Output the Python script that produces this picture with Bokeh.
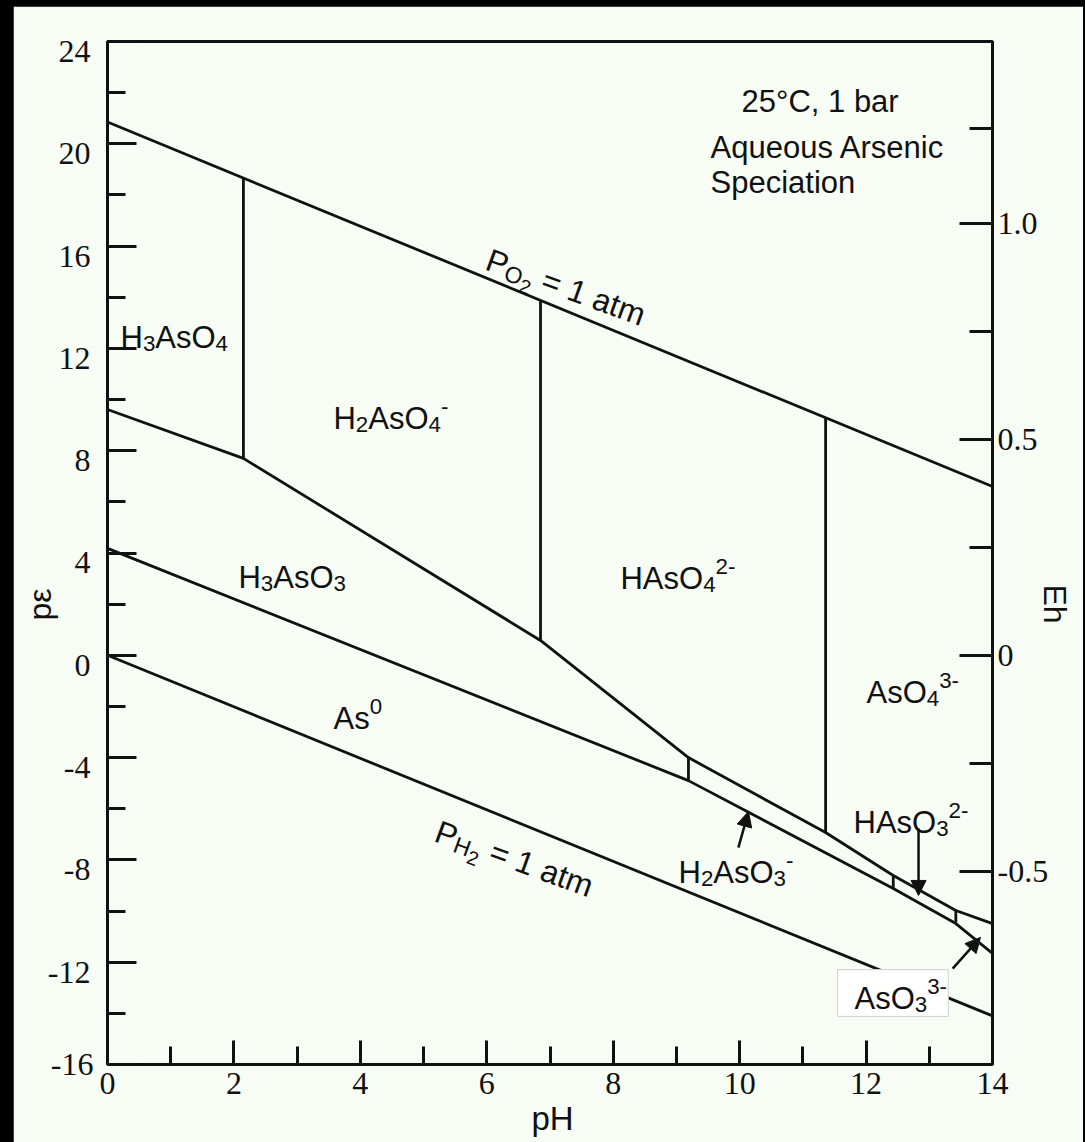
import numpy as np
from bokeh.plotting import figure
from bokeh.layouts import column
from bokeh.models import (Range1d, LinearAxis, FixedTicker, ColumnDataSource,
                          Title, Arrow, NormalHead)
from bokeh.core.properties import value, field
from bokeh.embed import file_html
from bokeh.resources import INLINE

# ---------------- stability-field boundaries (pH, pe) ----------------
o2_ph = [0.0, 14.0]                 # PO2 = 1 atm
o2_pe = [20.85, 6.60]
h2_ph = [0.0, 14.0]                 # PH2 = 1 atm
h2_pe = [0.0, -14.1]
as5_ph = [0.0, 2.15, 6.85, 9.19, 11.36, 12.43, 13.42, 14.0]   # As(V) / As(III)
as5_pe = [9.61, 7.70, 0.58, -4.00, -6.93, -8.61, -9.98, -10.49]
as0_ph = [0.0, 9.19, 12.43, 13.42, 14.0]                      # As(III) / As(0)
as0_pe = [4.18, -4.90, -9.12, -10.49, -11.66]
pka_as5 = [2.15, 6.85, 11.36]       # arsenate acid/base boundaries
pka_as3 = [9.19, 12.43, 13.42]      # arsenite acid/base boundaries

# pointer arrows for the narrow arsenite fields
arrow_tail_ph = [9.98, 12.83, 13.37]
arrow_tail_pe = [-7.52, -6.77, -12.25]
arrow_tip_ph = [10.14, 12.83, 13.81]
arrow_tip_pe = [-6.11, -9.39, -11.03]

# boxed AsO3(3-) label area
box_ph = [11.55, 13.30]
box_pe = [-14.12, -12.29]

# ---------------- axes ----------------
ph_major = [0, 2, 4, 6, 8, 10, 12, 14]
ph_minor = [1, 3, 5, 7, 9, 11, 13]
pe_major = [-16, -12, -8, -4, 0, 4, 8, 12, 16, 20, 24]
pe_minor = [-14, -10, -6, -2, 2, 6, 10, 14, 18, 22]
pe_labels = ["-16", "-12", "-8", "-4", "0", "4", "8", "12", "16", "20", "24"]
eh_major = [-0.5, 0.0, 0.5, 1.0]
eh_minor = [-0.25, 0.25, 0.75, 1.22]
eh_labels = ["-0.5", "0", "0.5", "1.0"]
EH_PER_PE = 0.0592
PE_LABEL_DROP = 0.39     # pe labels sit a little below their ticks

BG = "#f7fdf4"
INK = "#111111"
SANS = "Liberation Sans"
SERIF = "Liberation Serif"

p = figure(width=1070, height=1136,
           x_range=Range1d(0, 14), y_range=Range1d(-16, 24),
           output_backend="svg", toolbar_location=None,
           min_border_left=94, min_border_right=91,
           min_border_top=35, min_border_bottom=78,
           background_fill_color=BG, border_fill_color=BG,
           outline_line_color=INK, outline_line_width=3)
p.margin = (6, 2, 0, 13)
p.xgrid.visible = False
p.ygrid.visible = False
p.extra_y_ranges = {
    "eh": Range1d(-16 * EH_PER_PE, 24 * EH_PER_PE),
    "pe_lab": Range1d(-16 + PE_LABEL_DROP, 24 + PE_LABEL_DROP),
}


def style_axis(ax, major_in, minor_in):
    ax.axis_line_width = 3
    ax.axis_line_color = INK
    ax.major_tick_line_width = 3
    ax.minor_tick_line_width = 3
    ax.major_tick_line_color = INK
    ax.minor_tick_line_color = INK
    ax.major_tick_in = major_in
    ax.major_tick_out = 0
    ax.minor_tick_in = minor_in
    ax.minor_tick_out = 0
    ax.major_label_text_font = SERIF
    ax.major_label_text_font_size = "32px"
    ax.major_label_text_color = INK


# bottom: pH
xa = p.xaxis[0]
xa.ticker = FixedTicker(ticks=ph_major, minor_ticks=ph_minor)
style_axis(xa, 24, 18)
xa.major_label_standoff = 8
p.add_layout(Title(text="pH", align="left", offset=424, standoff=6,
                   vertical_align="top", text_font=SANS, text_font_size="33px",
                   text_font_style="normal", text_color=INK), "below")

# left: pe ticks on the frame edge (carries the bottom "-16" label)
ya = p.yaxis[0]
ya.ticker = FixedTicker(ticks=pe_major, minor_ticks=pe_minor)
style_axis(ya, 29, 18)
ya.major_label_overrides = {v: (s if v == pe_major[0] else "") for v, s in zip(pe_major, pe_labels)}
ya.major_label_standoff = 14

# left: remaining pe tick labels, dropped slightly below their ticks
la = LinearAxis(y_range_name="pe_lab", ticker=FixedTicker(ticks=pe_major[1:]),
                major_label_overrides={v: s for v, s in zip(pe_major[1:], pe_labels[1:])})
style_axis(la, 0, 0)
la.axis_line_color = None
la.major_tick_line_color = None
la.minor_tick_line_color = None
la.major_label_standoff = -43
p.add_layout(la, "left")
p.add_layout(Title(text="pε", align="left", offset=444, standoff=-26,
                   vertical_align="bottom", text_font=SANS, text_font_size="32px",
                   text_font_style="normal", text_color=INK), "left")

# right: Eh
ra = LinearAxis(y_range_name="eh",
                ticker=FixedTicker(ticks=eh_major, minor_ticks=eh_minor),
                major_label_overrides={v: s for v, s in zip(eh_major, eh_labels)})
style_axis(ra, 33, 23)
ra.major_label_standoff = 5
p.add_layout(ra, "right")
p.add_layout(Title(text="Eh", align="left", offset=543, standoff=-29,
                   vertical_align="bottom", text_font=SANS, text_font_size="32px",
                   text_font_style="normal", text_color=INK), "right")

# ---------------- boundaries ----------------
LW = 2.8
p.line(o2_ph, o2_pe, line_color=INK, line_width=LW)
p.line(h2_ph, h2_pe, line_color=INK, line_width=LW)
p.line(as5_ph, as5_pe, line_color=INK, line_width=LW)
p.line(as0_ph, as0_pe, line_color=INK, line_width=LW)
p.segment(x0=pka_as5, y0=np.interp(pka_as5, as5_ph, as5_pe),
          x1=pka_as5, y1=np.interp(pka_as5, o2_ph, o2_pe),
          line_color=INK, line_width=LW)
p.segment(x0=pka_as3, y0=np.interp(pka_as3, as0_ph, as0_pe),
          x1=pka_as3, y1=np.interp(pka_as3, as5_ph, as5_pe),
          line_color=INK, line_width=LW)

# white box behind the AsO3(3-) label
p.quad(left=[box_ph[0]], right=[box_ph[1]], bottom=[box_pe[0]], top=[box_pe[1]],
       fill_color="white", line_color="#cfcfcf", line_width=1)

# ---------------- labels with sub/superscripts ----------------
EM = {"H": .722, "A": .667, "s": .5, "O": .778, "P": .667, "-": .333, " ": .278,
      "=": .584, "a": .556, "t": .278, "m": .833}
for d in "0123456789":
    EM[d] = .556
SCALE = {"n": 1.0, "sub": 0.72, "sup": 0.72, "subsub": 0.62}
SHIFT = {"n": 0.0, "sub": 0.2, "sup": -0.38, "subsub": 0.42}

rows = dict(x=[], y=[], t=[], fs=[], xo=[], yo=[], ang=[])


def put(parts, ph0, pe0, size, angle_deg=0.0):
    th = np.radians(angle_deg)
    c, s = np.cos(-th), np.sin(-th)
    adv = 0.0
    for txt, kind in parts:
        fs = size * SCALE[kind]
        sh = SHIFT[kind] * size
        lead = len(txt) - len(txt.lstrip(" "))
        adv += lead * EM[" "] * fs
        body = txt.lstrip(" ")
        rows["x"].append(ph0)
        rows["y"].append(pe0)
        rows["t"].append(body)
        rows["fs"].append(f"{fs:.1f}px")
        rows["xo"].append(adv * c - sh * s)
        rows["yo"].append(adv * s + sh * c)
        rows["ang"].append(th)
        adv += sum(EM[ch] for ch in body) * fs


S = 31
put([("H", "n"), ("3", "sub"), ("AsO", "n"), ("4", "sub")], 0.206, 12.43, S)
put([("H", "n"), ("2", "sub"), ("AsO", "n"), ("4", "sub"), ("-", "sup")], 3.575, 9.26, S)
put([("H", "n"), ("3", "sub"), ("AsO", "n"), ("3", "sub")], 2.072, 3.04, S)
put([("HAsO", "n"), ("4", "sub"), ("2-", "sup")], 8.115, 3.00, S)
put([("AsO", "n"), ("4", "sub"), ("3-", "sup")], 12.007, -1.455, S)
put([("As", "n"), ("0", "sup")], 3.575, -2.47, S)
put([("H", "n"), ("2", "sub"), ("AsO", "n"), ("3", "sub"), ("-", "sup")], 9.033, -8.49, S)
put([("HAsO", "n"), ("3", "sub"), ("2-", "sup")], 11.801, -6.54, S)
put([("AsO", "n"), ("3", "sub"), ("3-", "sup")], 11.817, -13.42, S)
put([("P", "n"), ("O", "sub"), ("2", "subsub"), (" = 1 atm", "n")], 6.011, 15.51, 32, -20.0)
put([("P", "n"), ("H", "sub"), ("2", "subsub"), (" = 1 atm", "n")], 5.205, -6.85, 32, -20.0)

src = ColumnDataSource(rows)
p.text(x="x", y="y", text="t", source=src, x_offset="xo", y_offset="yo", angle="ang",
       text_font=value(SANS), text_font_size=field("fs"), text_color=INK,
       text_align="left", text_baseline="alphabetic")

note = ColumnDataSource(dict(x=[10.03, 9.539, 9.539], y=[21.65, 19.86, 18.49],
                             t=["25°C, 1 bar", "Aqueous Arsenic", "Speciation"]))
p.text(x="x", y="y", text="t", source=note, text_font=value(SANS),
       text_font_size="31px", text_color=INK, text_align="left", text_baseline="alphabetic")

# arrows pointing into the thin fields
arr_src = ColumnDataSource(dict(x0=arrow_tail_ph, y0=arrow_tail_pe,
                                x1=arrow_tip_ph, y1=arrow_tip_pe))
p.add_layout(Arrow(source=arr_src, x_start="x0", y_start="y0", x_end="x1", y_end="y1",
                   line_color=INK, line_width=2.5,
                   end=NormalHead(size=15, fill_color=INK, line_color=INK, line_width=1)))

page = column(p, styles={"background-color": "black"})
open("out.html", "w").write(file_html(page, INLINE))
